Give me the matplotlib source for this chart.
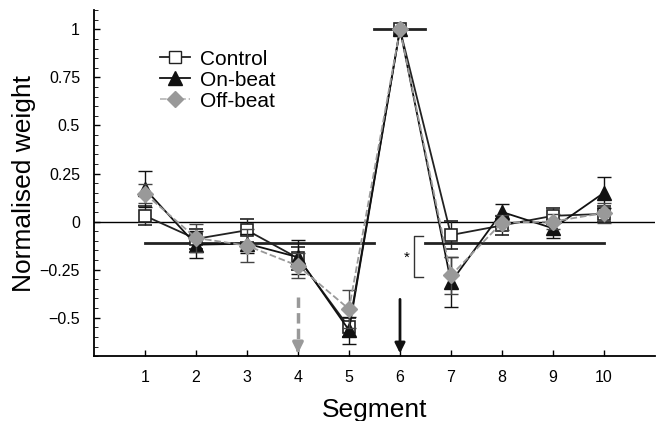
import matplotlib.pyplot as plt
from matplotlib.lines import Line2D
from matplotlib.ticker import MultipleLocator

plt.rcParams['font.family'] = ['Liberation Sans', 'DejaVu Sans']

segments = [1, 2, 3, 4, 5, 6, 7, 8, 9, 10]

control = [0.03, -0.09, -0.045, -0.19, -0.55, 1.0, -0.07, -0.02, 0.03, 0.04]
control_err = [0.05, 0.05, 0.06, 0.06, 0.05, 0.0, 0.075, 0.05, 0.04, 0.04]

onbeat = [0.17, -0.12, -0.115, -0.185, -0.565, 1.0, -0.315, 0.05, -0.035, 0.15]
onbeat_err = [0.095, 0.07, 0.05, 0.09, 0.07, 0.0, 0.13, 0.04, 0.05, 0.08]

offbeat = [0.145, -0.085, -0.125, -0.23, -0.455, 1.0, -0.28, -0.005, 0.0, 0.045]
offbeat_err = [0.05, 0.075, 0.085, 0.065, 0.1, 0.0, 0.095, 0.04, 0.04, 0.05]

gray = '#999999'

fig = plt.figure(figsize=(6.57, 4.21), dpi=100)
ax = fig.add_axes([0.143, 0.154, 0.854, 0.822])

# reference lines
ax.axhline(0, color='black', lw=1.0, zorder=1)
ax.plot([1, 5.5], [-0.11, -0.11], color='#222222', lw=2, zorder=1)
ax.plot([6.5, 10], [-0.11, -0.11], color='#222222', lw=2, zorder=1)
ax.plot([5.5, 6.5], [1.0, 1.0], color='#222222', lw=2, zorder=1)

ax.errorbar(segments, control, yerr=control_err, color='#222222', lw=1.3,
            marker='s', ms=9, mfc='white', mec='#222222', mew=1.2,
            capsize=5, elinewidth=1, zorder=3)
ax.errorbar(segments, onbeat, yerr=onbeat_err, color='#111111', lw=1.3,
            marker='^', ms=10, mfc='#111111', mec='#111111',
            capsize=5, elinewidth=1, zorder=4)
ax.errorbar(segments, offbeat, yerr=offbeat_err, color=gray, lw=1.3, ls='--',
            marker='D', ms=8, mfc=gray, mec=gray,
            capsize=5, elinewidth=1, ecolor='#444444', zorder=5)

# significance bracket
ax.plot([6.45, 6.27, 6.27, 6.45], [-0.075, -0.075, -0.29, -0.29], color='#333333', lw=1)
ax.text(6.14, -0.19, '*', ha='center', va='center', fontsize=11)

# arrows
ax.plot([4, 4], [-0.39, -0.66], color=gray, lw=2.5, ls=(0, (3, 1.5)))
ax.annotate('', xy=(4, -0.7), xytext=(4, -0.65),
            arrowprops=dict(arrowstyle='-|>,head_width=0.3,head_length=0.6',
                            color=gray, lw=2.5))
ax.annotate('', xy=(6, -0.7), xytext=(6, -0.39),
            arrowprops=dict(arrowstyle='-|>,head_width=0.3,head_length=0.6',
                            color='#111111', lw=2))

ax.set_xlim(0, 11)
ax.set_ylim(-0.7, 1.1)
ax.set_xticks(segments)
ax.set_yticks([-0.5, -0.25, 0, 0.25, 0.5, 0.75, 1])
ax.set_yticklabels(['\u22120.5', '\u22120.25', '0', '0.25', '0.5', '0.75', '1'])
ax.yaxis.set_minor_locator(MultipleLocator(0.05))
ax.tick_params(direction='in', labelsize=11.5, length=4, width=1)
ax.tick_params(axis='y', which='minor', direction='in', length=3)
ax.tick_params(axis='x', pad=10)
ax.tick_params(axis='y', pad=10)
for s in ['top', 'right']:
    ax.spines[s].set_visible(False)
for s in ['left', 'bottom']:
    ax.spines[s].set_linewidth(1.3)

ax.set_xlabel('Segment', fontsize=19, labelpad=9)
ax.set_ylabel('Normalised weight', fontsize=19, labelpad=3)

handles = [
    Line2D([], [], color='#222222', lw=1.3, marker='s', ms=9, mfc='white', mec='#222222'),
    Line2D([], [], color='#111111', lw=1.3, marker='^', ms=10, mfc='#111111'),
    Line2D([], [], color='#bbbbbb', lw=1.3, ls='--', marker='D', ms=8, mfc=gray, mec=gray),
]
ax.legend(handles, ['Control', 'On-beat', 'Off-beat'], loc='upper left',
          bbox_to_anchor=(0.085, 0.94), frameon=False, fontsize=15,
          handlelength=1.4, handletextpad=0.5, labelspacing=0.1)

fig.savefig('out.png', dpi=100)
